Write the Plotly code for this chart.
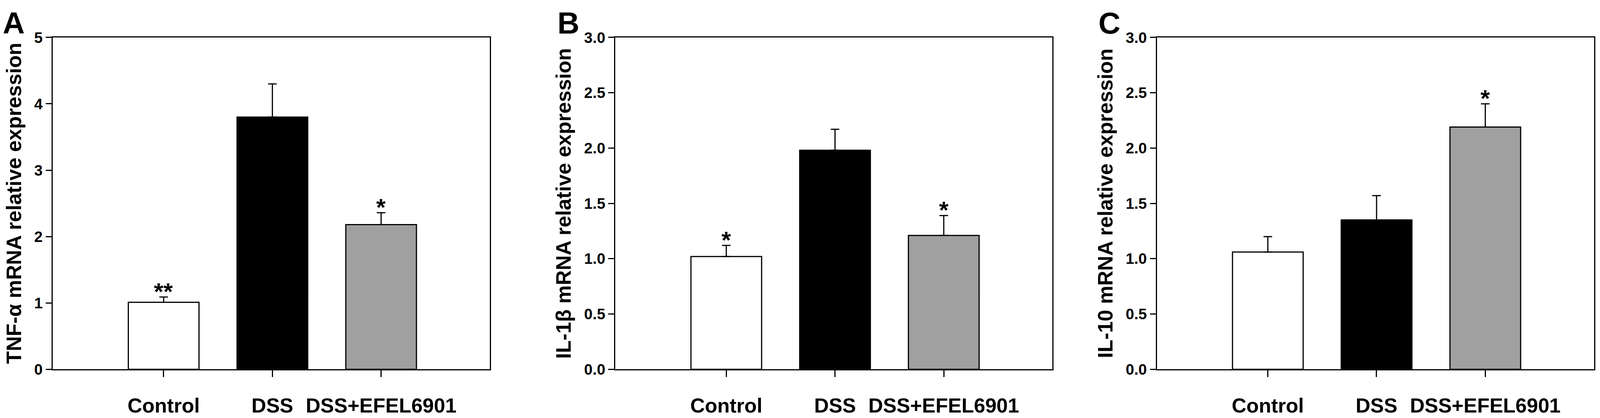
import plotly.graph_objects as go

# values
categories = ["Control", "DSS", "DSS+EFEL6901"]

tnf_mean = [1.01, 3.80, 2.18]
tnf_err = [0.08, 0.50, 0.18]
tnf_sig = ["**", "", "*"]

il1b_mean = [1.02, 1.98, 1.21]
il1b_err = [0.10, 0.19, 0.18]
il1b_sig = ["*", "", "*"]

il10_mean = [1.06, 1.35, 2.19]
il10_err = [0.14, 0.22, 0.21]
il10_sig = ["", "", "*"]

panels = [
    ("A", "TNF-\u03b1 mRNA relative expression", tnf_mean, tnf_err, tnf_sig, [0, 5], 1, "d"),
    ("B", "IL-1\u03b2 mRNA relative expression", il1b_mean, il1b_err, il1b_sig, [0, 3], 0.5, ".1f"),
    ("C", "IL-10 mRNA relative expression", il10_mean, il10_err, il10_sig, [0, 3], 0.5, ".1f"),
]

W, H = 4550, 1071
bar_colors = ["white", "black", "#a0a0a0"]
font = "Liberation Sans, Arial, sans-serif"

# layout measured on the 4550x1071 reference, used as paper fractions
x_pix = [(150, 1393), (1750, 2993), (3290, 4533)]
title_x = [39, 1602, 3143]
letter_x = [5, 1583, 3122]
y_dom = [(H - 964) / H, (H - 78) / H]


def bold(size):
    return dict(family=font, size=size, color="black", weight="bold")


fig = go.Figure()
annotations = []

for i, (letter, ytitle, mean, err, sig, yrange, dtick, fmt) in enumerate(panels):
    n = "" if i == 0 else str(i + 1)
    fig.add_trace(go.Bar(
        x=categories, y=mean, width=0.65,
        marker=dict(color=bar_colors, line=dict(color="black", width=3)),
        error_y=dict(type="data", symmetric=False, array=err, arrayminus=[0] * len(err),
                     color="black", thickness=3, width=11),
        xaxis="x" + n, yaxis="y" + n, showlegend=False,
    ))
    axis_common = dict(showline=True, linecolor="black", linewidth=3, mirror=True,
                       showgrid=False, zeroline=False, ticks="outside",
                       tickcolor="black", tickwidth=3)
    fig.update_layout({
        "xaxis" + n: dict(axis_common, type="category", range=[-1.02, 3.0],
                          domain=[x_pix[i][0] / W, x_pix[i][1] / W], anchor="y" + n,
                          ticklen=17, ticklabelstandoff=28, tickfont=bold(52)),
        "yaxis" + n: dict(axis_common, range=yrange, dtick=dtick, tickformat=fmt,
                          domain=y_dom, anchor="x" + n, ticklen=15, tickfont=bold(39)),
    })
    for c, m, e, s in zip(categories, mean, err, sig):
        if s:
            annotations.append(dict(x=c, y=m + e, xref="x" + n, yref="y" + n, text=s,
                                    showarrow=False, yanchor="bottom", yshift=-22,
                                    font=bold(62)))
    annotations.append(dict(x=title_x[i] / W, y=(y_dom[0] + y_dom[1]) / 2, xref="paper", yref="paper",
                            text=ytitle, textangle=-90, showarrow=False,
                            xanchor="center", yanchor="middle", font=bold(53)))
    annotations.append(dict(x=letter_x[i] / W, y=1, xref="paper", yref="paper",
                            text=letter, showarrow=False,
                            xanchor="left", yanchor="top", yshift=8, font=bold(78)))

fig.update_layout(width=W, height=H, margin=dict(l=0, r=0, t=0, b=0),
                  paper_bgcolor="white", plot_bgcolor="white",
                  annotations=annotations, bargap=0.35)

# fit the figure to the browser window (the window may be narrower than W)
fit = """
document.body.style.margin = '0';
document.body.style.overflow = 'hidden';
var gd = document.getElementById('{plot_id}');
Plotly.relayout(gd, {width: window.innerWidth, height: window.innerHeight});
"""

fig.write_html("out.html", post_script=fit, config={"displayModeBar": False})
